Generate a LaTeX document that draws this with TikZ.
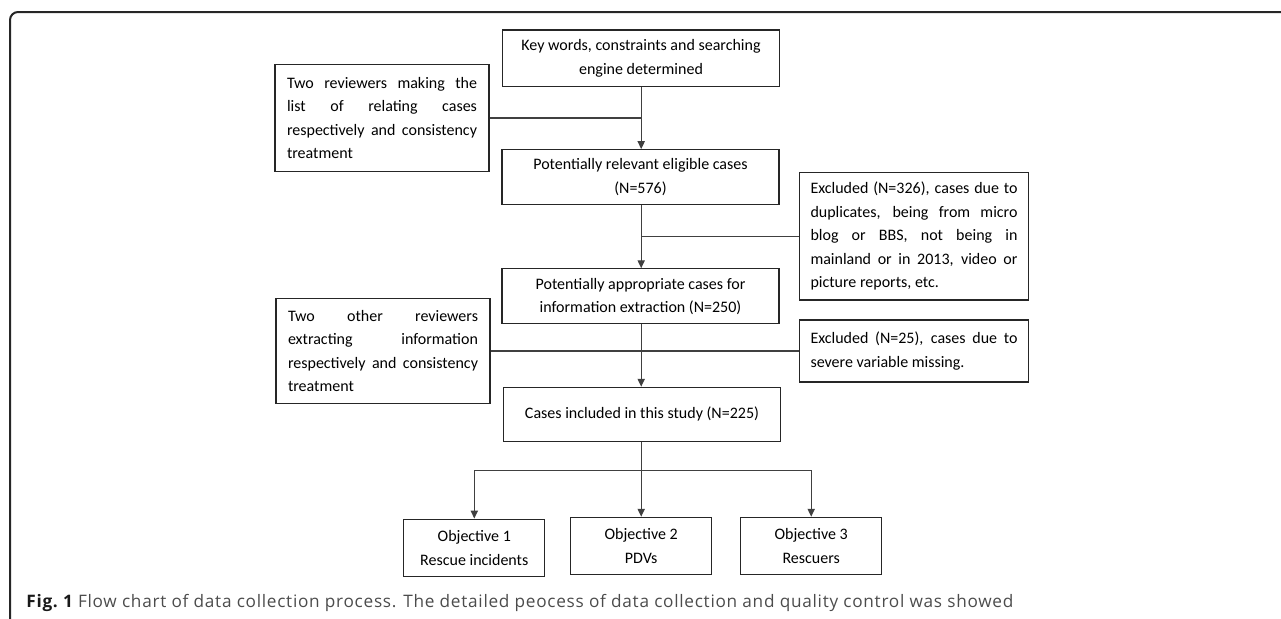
\documentclass[tikz,border=0pt]{standalone}
\usepackage{fontspec}
\setmainfont{Carlito}
\newfontfamily\capfont[LetterSpace=4.2]{Open Sans}
\usetikzlibrary{
  arrows.meta,
  positioning,
}
\tikzset{
  >={Triangle[length=4pt,width=3.6pt]},
  box/.style={draw=black!85, line width=0.55pt, inner sep=0pt,
    font=\fontsize{8}{11.75}\selectfont},
  midbox/.style={box, align=center, minimum width=138.5pt, minimum height=27.5pt},
  sidebox/.style={box, align=justify, inner xsep=6pt, text width=95pt},
  exbox/.style={box, align=justify, inner xsep=5.6pt, text width=103.5pt},
  objbox/.style={box, align=center, minimum width=70.5pt, minimum height=28.7pt},
  link/.style={draw=black!75, line width=0.65pt},
}

\begin{document}
\begin{tikzpicture}[x=0.5pt, y=-0.5pt]
      \useasboundingbox (0,0) rectangle (1281,618);
      % frame
      \draw[line width=1pt, black!85, rounded corners=4pt] (10,620) -- (10,12) -- (1283,12);

      % main column
      \node[midbox, minimum height=28.3pt] (kw) at (641,58.3)
        {Key words, constraints and searching\\engine determined};
      \node[midbox] (rel) at (640.5,177.2)
        {Potentially relevant eligible cases\\(N=576)};
      \node[midbox] (app) at (640.5,296.3)
        {Potentially appropriate cases for\\information extraction (N=250)};
      \node[midbox, minimum height=27pt] (inc) at (642,414.3)
        {Cases included in this study (N=225)};

      % side boxes
      \node[sidebox, minimum height=53.7pt] (rev1) at (382,118)
        {Two reviewers making the\linebreak list of relating cases\linebreak
         respectively and consistency\linebreak treatment};
      \node[sidebox, minimum height=52.5pt] (rev2) at (383,351)
        {Two other reviewers\linebreak extracting information\linebreak
         respectively and consistency\linebreak treatment};
      \node[exbox, minimum height=63.8pt] (exc1) at (914,236.2)
        {Excluded (N=326), cases due to\linebreak duplicates, being from micro\linebreak
         blog or BBS, not being in\linebreak mainland or in 2013, video or\linebreak
         picture reports, etc.};
      \node[exbox, minimum height=31pt] (exc2) at (914,351)
        {Excluded (N=25), cases due to\linebreak severe variable missing.};

      % objectives
      \node[objbox] (ob1) at (474.3,547.8) {Objective 1\\Rescue incidents};
      \node[objbox] (ob2) at (641.2,546) {Objective 2\\PDVs};
      \node[objbox] (ob3) at (811.2,546) {Objective 3\\Rescuers};
      \coordinate (split) at (641.2,470.7);

      % connectors
      \draw[link, ->] (kw.south -| ob2.north) -- (rel.north -| ob2.north);
      \draw[link, ->] (rel.south -| ob2.north) -- (app.north -| ob2.north);
      \draw[link, ->] (app.south -| ob2.north) -- (inc.north -| ob2.north);
      \draw[link] (rev1.east) -- (rev1.east -| ob2.north);
      \draw[link] (exc1.west) -- (exc1.west -| ob2.north);
      \draw[link] (rev2.east) -- (rev2.east -| ob2.north);
      \draw[link] (exc2.west) -- (exc2.west -| ob2.north);
      \draw[link] (inc.south -| ob2.north) -- (split);
      \draw[link, ->] (split) -| (ob1.north);
      \draw[link, ->] (split) -| (ob3.north);
      \draw[link, ->] (split) -- (ob2.north);

      % caption
      \node[anchor=base west, inner sep=0pt, font=\capfont\fontsize{8.6}{10}\selectfont,
        text=black!70] (cap) at (26,607)
        {{\bfseries\color{black!90}Fig.~1} Flow chart of data collection process. The detailed peocess of data collection and quality control was showed};
\end{tikzpicture}
\end{document}
